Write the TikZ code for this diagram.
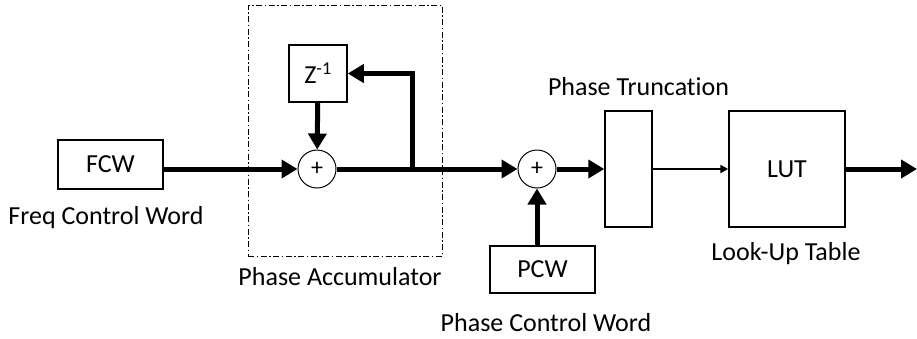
\documentclass[tikz,border=0pt]{standalone}
\usepackage{fontspec}
\setmainfont{Carlito}[Ligatures=NoCommon]
\usetikzlibrary{positioning,arrows.meta}

\begin{document}
\begin{tikzpicture}[
  x=1pt, y=-1pt,
  font=\fontsize{26}{30}\selectfont,
  box/.style={draw, line width=1.5pt, inner sep=0pt},
  adder/.style={draw, circle, line width=1pt, minimum size=38pt, inner sep=0pt, font=\fontsize{24}{28}\selectfont},
  caption/.style={inner sep=0pt},
  bus/.style={line width=5pt, -{Triangle[length=16pt,width=18pt]}},
  wire/.style={line width=2pt, -{Triangle[length=8pt,width=8pt]}},
]
\useasboundingbox (0,0) rectangle (917,338);

% phase accumulator frame
\node[draw, line width=1pt, dash pattern=on 6pt off 2.5pt on 1.5pt off 2.5pt,
      minimum width=194pt, minimum height=251pt] (acc) at (345,130.5) {};

\node[box, minimum width=105pt, minimum height=49pt] (fcw) at (110.5,164.5) {FCW};
\node[box, minimum width=58pt, minimum height=57pt] (zinv) at (318,73.5) {Z\textsuperscript{-1}};
\node[adder] (sum1) at (317,169) {+};
\node[adder] (sum2) at (537,169) {+};
\node[box, minimum width=105pt, minimum height=47pt] (pcw) at (542.5,269.5) {PCW};
\node[box, minimum width=47pt, minimum height=116pt] (trunc) at (628.5,169) {};
\node[box, minimum width=116pt, minimum height=116pt] (lut) at (787,169) {LUT};

\node[caption] (fcwtxt) at (106,218) {Freq Control Word};
\node[caption] (acctxt) at (340,277) {Phase Accumulator};
\node[caption] (trunctxt) at (638.5,87) {Phase Truncation};
\node[caption] (pcwtxt) at (546,323) {Phase Control Word};
\node[caption] (luttxt) at (786,254) {Look-Up Table};

\coordinate (tap) at (412,169);
\coordinate (out) at (917,169);

\draw[bus] (fcw.east |- sum1) -- (sum1);
\draw[bus] (zinv) -- (sum1);
\draw[bus] (sum1) -- (sum2);
\draw[bus] (tap) |- (zinv.east);
\draw[bus] (pcw.north -| sum2) -- (sum2);
\draw[bus] (sum2) -- (trunc);
\draw[wire] (trunc) -- (lut);
\draw[bus] (lut) -- (out);
\end{tikzpicture}
\end{document}
